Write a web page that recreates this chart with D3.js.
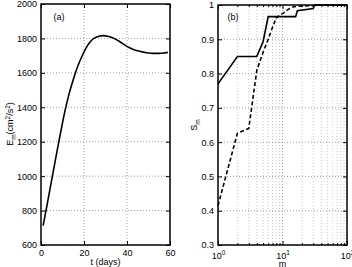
<!DOCTYPE html>
<html><head><meta charset="utf-8">
<script src="https://cdn.jsdelivr.net/npm/d3@7"></script>
<style>
html,body{margin:0;padding:0;background:#fff;}
svg{display:block;font-family:"Liberation Sans",Arial,Helvetica,sans-serif;}
</style></head>
<body><svg id="c" width="352" height="267"></svg>
<script>
// Panel (a) data: energy vs time
const tDays = [1,3,5,7,9,11,13,15,17,19,21,23,25,27,29,31,33,35,37,39,41,43,45,47,49,51,53,55,57,59];
const energy = [712,845,980,1115,1245,1370,1475,1560,1635,1695,1745,1782,1803,1813,1816,1813,1805,1793,1778,1762,1747,1736,1728,1722,1717,1714,1713,1713,1715,1719];
const aXTicks = [0,20,40,60];
const aYTicks = [600,800,1000,1200,1400,1600,1800,2000];

// Panel (b) data: S_m vs m
const mSolid = [1,2,3,4,5,6,16,17,30,31,100];
const sSolid = [0.77,0.85,0.85,0.85,0.893,0.966,0.966,0.983,0.99,1.0,1.0];
const mDashed = [1,2,3,4,5,6,7,8,9,10,11,12,13,14,15,20,30,40,100];
const sDashed = [0.415,0.626,0.64,0.81,0.862,0.90,0.935,0.962,0.97,0.975,0.98,0.986,0.99,0.993,0.995,0.997,0.998,1.0,1.0];
const bXTicks = [1,10,100];
const bXTickLabels = ["0","1","2"];
const bYTicks = [0.3,0.4,0.5,0.6,0.7,0.8,0.9,1];
const bYTickLabels = ["0.3","0.4","0.5","0.6","0.7","0.8","0.9","1"];

const svg = d3.select("#c");
const FS = 9;

// ---------- Panel a ----------
const ax = d3.scaleLinear().domain([0,60]).range([41,170]);
const ay = d3.scaleLinear().domain([600,2000]).range([245,4]);
const ga = svg.append("g");

ga.selectAll(".gx").data(aXTicks.slice(1,-1)).enter().append("line")
  .attr("x1",d=>ax(d)).attr("x2",d=>ax(d)).attr("y1",ay(600)).attr("y2",ay(2000))
  .attr("stroke","#888").attr("stroke-width",0.8).attr("stroke-dasharray","1,2");
ga.selectAll(".gy").data(aYTicks.slice(1,-1)).enter().append("line")
  .attr("x1",ax(0)).attr("x2",ax(60)).attr("y1",d=>ay(d)).attr("y2",d=>ay(d))
  .attr("stroke","#888").attr("stroke-width",0.8).attr("stroke-dasharray","1,2");

function styleAxis(g){
  g.select(".domain").remove();
  g.selectAll(".tick line").attr("stroke","#000").attr("stroke-width",1);
  g.selectAll("text").attr("font-size",FS).attr("fill","#000").attr("font-family","Liberation Sans, Arial, sans-serif");
}
ga.append("g").attr("transform",`translate(0,${ay(600)})`)
  .call(d3.axisBottom(ax).tickValues(aXTicks).tickSize(-4).tickPadding(5).tickFormat(d3.format("d"))).call(styleAxis);
ga.append("g").attr("transform",`translate(0,${ay(2000)})`)
  .call(d3.axisTop(ax).tickValues(aXTicks).tickSize(-4).tickFormat("")).call(styleAxis);
ga.append("g").attr("transform",`translate(${ax(0)},0)`)
  .call(d3.axisLeft(ay).tickValues(aYTicks).tickSize(-4).tickPadding(4).tickFormat(d3.format("d"))).call(styleAxis);
ga.append("g").attr("transform",`translate(${ax(60)},0)`)
  .call(d3.axisRight(ay).tickValues(aYTicks).tickSize(-4).tickFormat("")).call(styleAxis);

ga.append("path").datum(tDays.map((t,i)=>[t,energy[i]]))
  .attr("fill","none").attr("stroke","#000").attr("stroke-width",1.6)
  .attr("d",d3.line().x(d=>ax(d[0])).y(d=>ay(d[1])).curve(d3.curveMonotoneX));

ga.append("rect").attr("x",ax(0)).attr("y",ay(2000)).attr("width",ax(60)-ax(0)).attr("height",ay(600)-ay(2000))
  .attr("fill","none").attr("stroke","#000").attr("stroke-width",1.5);

ga.append("text").attr("x",59).attr("y",20).attr("text-anchor","middle").attr("font-size",FS).text("(a)");
ga.append("text").attr("x",105.5).attr("y",265).attr("text-anchor","middle").attr("font-size",FS).text("t (days)");

const yl = ga.append("text").attr("transform","translate(13,124) rotate(-90)").attr("text-anchor","middle").attr("font-size",FS);
yl.append("tspan").text("E");
yl.append("tspan").attr("font-size",6.5).attr("dy",2.5).text("m");
yl.append("tspan").attr("dy",-2.5).text("(cm");
yl.append("tspan").attr("font-size",6.5).attr("dy",-3.5).text("2");
yl.append("tspan").attr("dy",3.5).text("/s");
yl.append("tspan").attr("font-size",6.5).attr("dy",-3.5).text("2");
yl.append("tspan").attr("dy",3.5).text(")");

// ---------- Panel b ----------
const bx = d3.scaleLog().domain([1,100]).range([218,347]);
const by = d3.scaleLinear().domain([0.3,1]).range([245,5]);
const gb = svg.append("g");

const minor = [];
[1,10].forEach(dec=>{for(let k=2;k<=9;k++) minor.push(dec*k);});
gb.selectAll(".mg").data(minor).enter().append("line")
  .attr("x1",d=>bx(d)).attr("x2",d=>bx(d)).attr("y1",by(0.3)).attr("y2",by(1))
  .attr("stroke","#bbb").attr("stroke-width",0.8).attr("stroke-dasharray","1,2");
gb.selectAll(".gx").data([10]).enter().append("line")
  .attr("x1",d=>bx(d)).attr("x2",d=>bx(d)).attr("y1",by(0.3)).attr("y2",by(1))
  .attr("stroke","#888").attr("stroke-width",0.8).attr("stroke-dasharray","1,2");
gb.selectAll(".gy").data(bYTicks.slice(1,-1)).enter().append("line")
  .attr("x1",bx(1)).attr("x2",bx(100)).attr("y1",d=>by(d)).attr("y2",d=>by(d))
  .attr("stroke","#888").attr("stroke-width",0.8).attr("stroke-dasharray","1,2");

gb.append("g").attr("transform",`translate(0,${by(0.3)})`)
  .call(d3.axisBottom(bx).tickValues(minor).tickSize(-2).tickFormat("")).call(styleAxis);
gb.append("g").attr("transform",`translate(0,${by(1)})`)
  .call(d3.axisTop(bx).tickValues(minor).tickSize(-2).tickFormat("")).call(styleAxis);
const bxb = gb.append("g").attr("transform",`translate(0,${by(0.3)})`)
  .call(d3.axisBottom(bx).tickValues(bXTicks).tickSize(-4).tickPadding(5).tickFormat(()=>"")).call(styleAxis);
bxb.selectAll(".tick").each(function(d,i){
  const t = d3.select(this).append("text").attr("y",14).attr("text-anchor","middle").attr("font-size",FS).attr("fill","#000");
  t.append("tspan").text("10");
  t.append("tspan").attr("font-size",6.5).attr("dy",-4).text(bXTickLabels[i]);
});
gb.append("g").attr("transform",`translate(0,${by(1)})`)
  .call(d3.axisTop(bx).tickValues(bXTicks).tickSize(-4).tickFormat("")).call(styleAxis);
gb.append("g").attr("transform",`translate(${bx(1)},0)`)
  .call(d3.axisLeft(by).tickValues(bYTicks).tickSize(-4).tickPadding(4).tickFormat((d,i)=>bYTickLabels[i])).call(styleAxis);
gb.append("g").attr("transform",`translate(${bx(100)},0)`)
  .call(d3.axisRight(by).tickValues(bYTicks).tickSize(-4).tickFormat("")).call(styleAxis);

const lineB = d3.line().x(d=>bx(d[0])).y(d=>by(d[1]));
gb.append("path").datum(mSolid.map((m,i)=>[m,sSolid[i]]))
  .attr("fill","none").attr("stroke","#000").attr("stroke-width",1.6).attr("d",lineB);
gb.append("path").datum(mDashed.map((m,i)=>[m,sDashed[i]]))
  .attr("fill","none").attr("stroke","#000").attr("stroke-width",1.6).attr("stroke-dasharray","4,2.5").attr("d",lineB);

gb.append("rect").attr("x",bx(1)).attr("y",by(1)).attr("width",bx(100)-bx(1)).attr("height",by(0.3)-by(1))
  .attr("fill","none").attr("stroke","#000").attr("stroke-width",1.5);

gb.append("text").attr("x",233).attr("y",20).attr("text-anchor","middle").attr("font-size",FS).text("(b)");
gb.append("text").attr("x",282.5).attr("y",266.5).attr("text-anchor","middle").attr("font-size",FS).text("m");
const sl = gb.append("text").attr("transform","translate(197,125) rotate(-90)").attr("text-anchor","middle").attr("font-size",FS);
sl.append("tspan").text("S");
sl.append("tspan").attr("font-size",6.5).attr("dy",2.5).text("m");
</script></body></html>
